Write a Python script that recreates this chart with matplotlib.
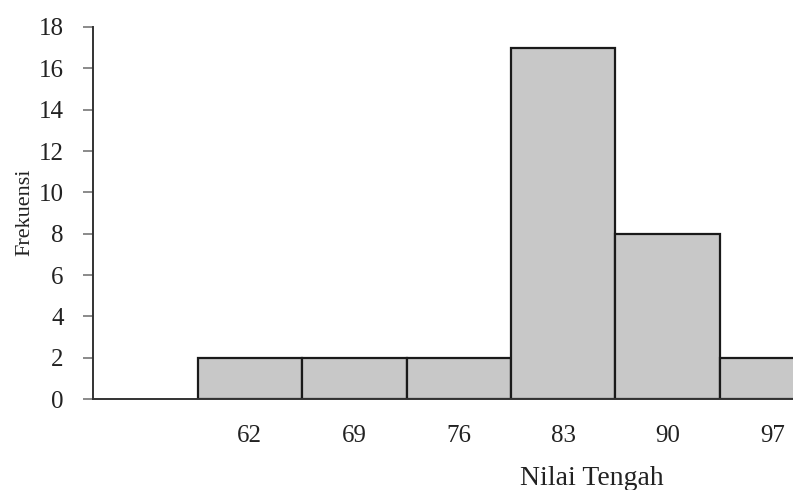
import matplotlib.pyplot as plt

# data
nilai_tengah = [62, 69, 76, 83, 90, 97]
frekuensi = [2, 2, 2, 17, 8, 2]
y_ticks = [0, 2, 4, 6, 8, 10, 12, 14, 16, 18]

plt.rcParams['font.family'] = ['Liberation Serif', 'DejaVu Serif']

fig = plt.figure(figsize=(7.93, 4.90), dpi=100)
# axes runs past the right edge of the figure, like the cut-off last bar
ax = fig.add_axes([0.1173, 0.1857, 0.9224, 0.7592])

pos = list(range(1, len(nilai_tengah) + 1))
ax.bar(pos, frekuensi, width=1.0, color='#c8c8c8', edgecolor='#1a1a1a', linewidth=1.6)

ax.set_xlim(-0.5, 6.5)
ax.set_ylim(0, 18)
ax.set_xticks(pos)
ax.set_xticklabels([str(v) for v in nilai_tengah])
ax.set_yticks(y_ticks)

for s in ['top', 'right']:
    ax.spines[s].set_visible(False)
for s in ['left', 'bottom']:
    ax.spines[s].set_color('#333333')
    ax.spines[s].set_linewidth(1.4)

ax.tick_params(axis='x', length=0, pad=19, labelsize=18, colors='#222222')
ax.tick_params(axis='y', length=7, width=1.2, color='#777777', pad=14, labelsize=18, labelcolor='#222222')

fig.text(0.031, 0.567, 'Frekuensi', rotation=90, ha='center', va='center', fontsize=16, color='#222222')
fig.text(0.746, 0.023, 'Nilai Tengah', ha='center', va='center', fontsize=20, color='#222222')

fig.savefig('out.png', dpi=100)
